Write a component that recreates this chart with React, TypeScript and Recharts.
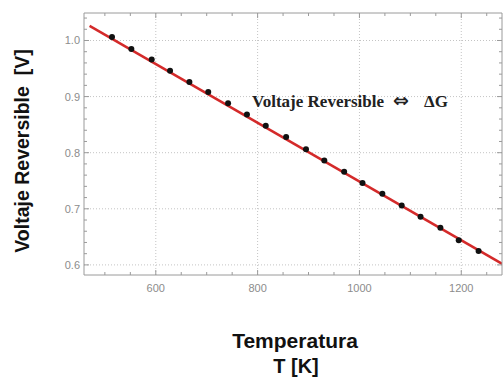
import React from 'react';
import { ComposedChart, XAxis, YAxis, Line, Scatter, ReferenceLine } from 'recharts';

// measured points (temperature K, reversible voltage V)
const temps = [514, 552, 592, 628, 666, 703, 742, 779, 816, 856, 895, 931, 970, 1006, 1045, 1083, 1120, 1159, 1195, 1234];
const volts = [1.006, 0.985, 0.966, 0.946, 0.926, 0.908, 0.888, 0.868, 0.848, 0.828, 0.806, 0.786, 0.766, 0.746, 0.727, 0.706, 0.686, 0.666, 0.644, 0.625];

// fitted line ends
const fitTemps = [470, 1282];
const fitVolts = [1.026, 0.601];

const xTicks = [500, 550, 600, 650, 700, 750, 800, 850, 900, 950, 1000, 1050, 1100, 1150, 1200, 1250];
const xMajor = [600, 800, 1000, 1200];
const yTicks = [0.6, 0.62, 0.64, 0.66, 0.68, 0.7, 0.72, 0.74, 0.76, 0.78, 0.8, 0.82, 0.84, 0.86, 0.88, 0.9, 0.92, 0.94, 0.96, 0.98, 1.0, 1.02, 1.04];
const yMajor = [0.6, 0.7, 0.8, 0.9, 1.0];

const FRAME = '#9a9a9a';
const TICK_TEXT = '#8c8c8c';
const GRID = '#c4c4c4';

const points = temps.map((t, i) => ({ T: t, V: volts[i] }));
const fit = fitTemps.map((t, i) => ({ T: t, V: fitVolts[i] }));

const isMajor = (list: number[], v: number) => list.some((m) => Math.abs(m - v) < 1e-6);

const BottomTick = (props: any) => {
  const { x, y, payload } = props;
  const major = isMajor(xMajor, payload.value);
  return (
    <g>
      <line x1={x} x2={x} y1={y} y2={y - (major ? 5 : 3)} stroke={FRAME} />
      {major && (
        <text x={x} y={y + 17} textAnchor="middle" fill={TICK_TEXT} fontSize={11}>
          {payload.value}
        </text>
      )}
    </g>
  );
};

const TopTick = (props: any) => {
  const { x, y, payload } = props;
  const major = isMajor(xMajor, payload.value);
  return <line x1={x} x2={x} y1={y} y2={y + (major ? 5 : 3)} stroke={FRAME} />;
};

const LeftTick = (props: any) => {
  const { x, y, payload } = props;
  const major = isMajor(yMajor, payload.value);
  return (
    <g>
      <line x1={x} x2={x + (major ? 5 : 3)} y1={y} y2={y} stroke={FRAME} />
      {major && (
        <text x={x - 4} y={y + 4} textAnchor="end" fill={TICK_TEXT} fontSize={11}>
          {payload.value.toFixed(1)}
        </text>
      )}
    </g>
  );
};

const RightTick = (props: any) => {
  const { x, y, payload } = props;
  const major = isMajor(yMajor, payload.value);
  return <line x1={x} x2={x - (major ? 5 : 3)} y1={y} y2={y} stroke={FRAME} />;
};

const Dot = (props: any) => <circle cx={props.cx} cy={props.cy} r={3} fill="#111" />;

export default function App() {
  const xDomain = [459, 1280];
  const yDomain = [0.582, 1.049];
  return (
    <div style={{ position: 'absolute', left: 0, top: 0, width: 504, height: 378, background: '#fff', fontFamily: '"Liberation Sans", Arial, sans-serif' }}>
      <ComposedChart width={504} height={378} margin={{ top: 12, right: 1, bottom: 102, left: 83 }}>
        <XAxis xAxisId="b" type="number" dataKey="T" domain={xDomain} allowDataOverflow ticks={xTicks} interval={0}
          height={1} tickSize={0} tickMargin={0} tickLine={false} tick={<BottomTick />} axisLine={{ stroke: FRAME }} />
        <XAxis xAxisId="t" orientation="top" type="number" dataKey="T" domain={xDomain} allowDataOverflow ticks={xTicks} interval={0}
          height={1} tickSize={0} tickMargin={0} tickLine={false} tick={<TopTick />} axisLine={{ stroke: FRAME }} />
        <YAxis yAxisId="l" type="number" domain={yDomain} allowDataOverflow ticks={yTicks} interval={0}
          width={1} tickSize={0} tickMargin={0} tickLine={false} tick={<LeftTick />} axisLine={{ stroke: FRAME }} />
        <YAxis yAxisId="r" orientation="right" type="number" domain={yDomain} allowDataOverflow ticks={yTicks} interval={0}
          width={1} tickSize={0} tickMargin={0} tickLine={false} tick={<RightTick />} axisLine={{ stroke: FRAME }} />

        {xMajor.map((v) => (
          <ReferenceLine key={`gx${v}`} xAxisId="b" yAxisId="l" x={v} stroke={GRID} strokeDasharray="1 2" />
        ))}
        {yMajor.map((v) => (
          <ReferenceLine key={`gy${v}`} xAxisId="b" yAxisId="l" y={v} stroke={GRID} strokeDasharray="1 2" />
        ))}

        <Line xAxisId="b" yAxisId="l" data={fit} dataKey="V" type="linear" stroke="#d42a2a" strokeWidth={2.5}
          dot={false} activeDot={false} isAnimationActive={false} />
        <Scatter xAxisId="b" yAxisId="l" data={points} dataKey="V" shape={<Dot />} isAnimationActive={false} />
      </ComposedChart>

      <svg width={504} height={378} style={{ position: 'absolute', left: 0, top: 0, pointerEvents: 'none' }}>
        <text x={252} y={107} fontFamily='"Liberation Serif", "Times New Roman", serif' fontWeight="bold" fontSize={17} fill="#222">
          Voltaje Reversible
        </text>
        <text x={401} y={107} textAnchor="middle" fontFamily='"DejaVu Sans", sans-serif' fontWeight="bold" fontSize={19} fill="#222">
          ⇔
        </text>
        <text x={424} y={107} fontFamily='"Liberation Serif", "Times New Roman", serif' fontWeight="bold" fontSize={17} fill="#222">
          ΔG
        </text>

        <text x={29} y={151} transform="rotate(-90 29 151)" textAnchor="middle" fontWeight="bold" fontSize={19.5} fill="#111">
          Voltaje Reversible{'\u00a0\u00a0'}[V]
        </text>

        <text x={295} y={348} textAnchor="middle" fontWeight="bold" fontSize={21} fill="#111">
          Temperatura
        </text>
        <text x={296} y={373} textAnchor="middle" fontWeight="bold" fontSize={20} fill="#111">
          T [K]
        </text>
      </svg>
    </div>
  );
}
